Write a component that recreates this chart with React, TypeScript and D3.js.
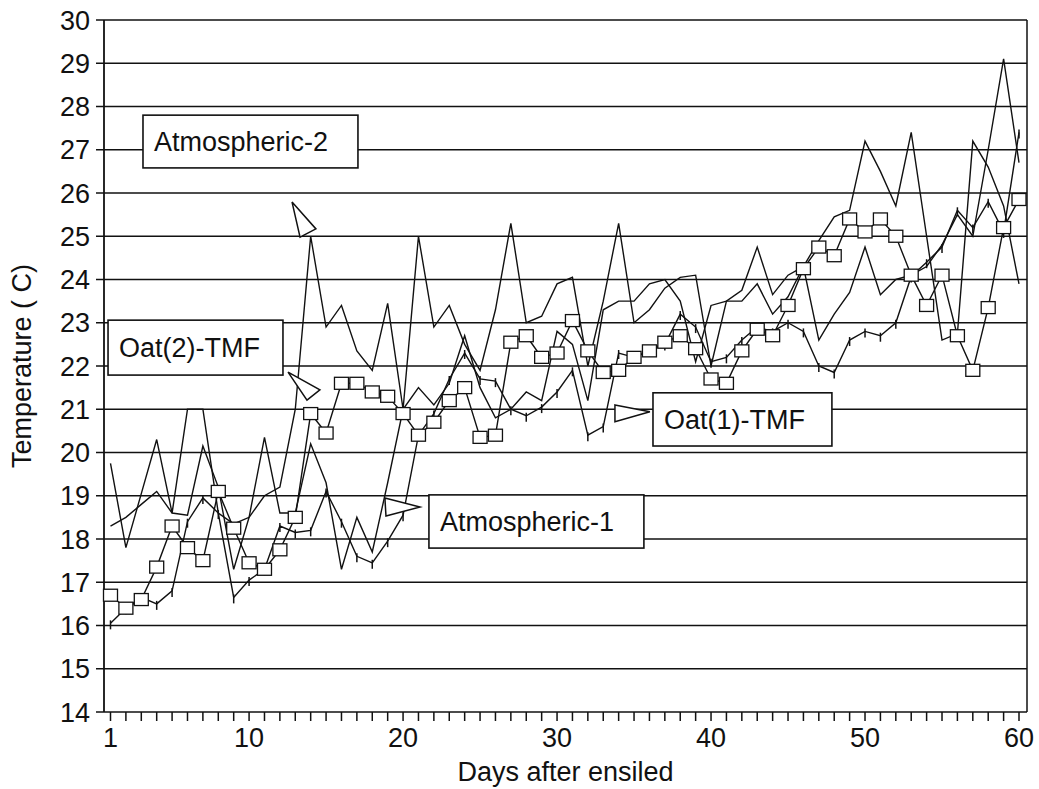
import React from "react";
import * as d3 from "d3";

const days = [
  1, 2, 3, 4, 5, 6, 7, 8, 9, 10, 11, 12, 13, 14, 15, 16, 17, 18, 19, 20,
  21, 22, 23, 24, 25, 26, 27, 28, 29, 30, 31, 32, 33, 34, 35, 36, 37, 38, 39, 40,
  41, 42, 43, 44, 45, 46, 47, 48, 49, 50, 51, 52, 53, 54, 55, 56, 57, 58, 59, 60,
];

// Atmospheric-1 (plain line)
const atm1 = [
  19.75, 17.8, 19.05, 20.3, 18.6, 21.0, 21.0, 18.6, 18.35, 18.5,
  20.35, 18.6, 18.6, 20.2, 19.3, 17.3, 18.5, 17.7, 19.3, 21.0,
  21.5, 21.1, 21.6, 22.7, 21.5, 20.8, 21.0, 21.4, 21.2, 22.8,
  22.5, 21.2, 23.3, 23.5, 23.5, 23.9, 24.0, 23.5, 22.1, 23.4,
  23.5, 23.75, 24.75, 23.65, 24.1, 24.3, 22.6, 23.2, 23.7, 24.75,
  23.65, 24.0, 24.1, 24.3, 24.8, 25.5, 25.0, 27.0, 29.1, 26.7,
];

// Atmospheric-2 (plain line)
const atm2 = [
  18.3, 18.5, 18.8, 19.1, 18.6, 18.55, 20.15, 19.2, 17.3, 18.5,
  19.0, 19.2, 21.0, 25.0, 22.9, 23.4, 22.35, 21.9, 23.45, 21.0,
  25.0, 22.9, 23.4, 22.5, 21.9, 23.3, 25.3, 23.0, 23.15, 23.9,
  24.05, 22.0, 23.5, 25.3, 23.0, 23.3, 23.8, 24.05, 24.1, 22.0,
  23.5, 23.5, 23.9, 23.2, 23.6, 24.3, 24.9, 25.45, 25.6, 27.2,
  26.5, 25.7, 27.4, 25.0, 22.6, 22.75, 27.2, 26.6, 25.7, 23.9,
];

// Oat(1)-TMF (tick markers)
const oat1 = [
  16.05, 16.4, 16.65, 16.5, 16.8, 18.4, 18.95, 18.6, 16.65, 17.05,
  17.3, 18.3, 18.15, 18.2, 19.1, 18.4, 17.6, 17.45, 17.95, 18.55,
  20.4, 20.9, 21.7, 22.3, 21.7, 21.65, 21.0, 20.85, 21.05, 21.4,
  21.9, 20.4, 20.6, 22.3, 22.2, 22.35, 22.5, 23.2, 22.9, 22.1,
  22.2, 22.6, 22.9, 22.8, 23.0, 22.8, 22.0, 21.85, 22.6, 22.8,
  22.7, 23.0, 24.07, 24.4, 24.75, 25.6, 25.2, 25.8, 25.1, 27.4,
];

// Oat(2)-TMF (square markers)
const oat2 = [
  16.7, 16.4, 16.6, 17.35, 18.3, 17.8, 17.5, 19.1, 18.25, 17.45,
  17.3, 17.75, 18.5, 20.9, 20.45, 21.6, 21.6, 21.4, 21.3, 20.9,
  20.4, 20.7, 21.2, 21.5, 20.35, 20.4, 22.55, 22.7, 22.2, 22.3,
  23.05, 22.35, 21.85, 21.9, 22.2, 22.35, 22.55, 22.7, 22.4, 21.7,
  21.6, 22.35, 22.85, 22.7, 23.4, 24.25, 24.75, 24.55, 25.4, 25.1,
  25.4, 25.0, 24.1, 23.4, 24.1, 22.7, 21.9, 23.35, 25.2, 25.85,
];

const yTicks = [14, 15, 16, 17, 18, 19, 20, 21, 22, 23, 24, 25, 26, 27, 28, 29, 30];
const xTickLabels = [1, 10, 20, 30, 40, 50, 60];

// Callout labels (box corners and tail triangle in data units: day, °C)
const callouts = [
  { text: "Atmospheric-2", box: [3.11, 27.8, 17.07, 26.58], tail: [[12.79, 25.79], [14.34, 25.17], [13.31, 24.98]] },
  { text: "Oat(2)-TMF", box: [0.84, 23.06, 12.2, 21.79], tail: [[12.53, 21.86], [14.6, 21.45], [13.76, 21.21]] },
  { text: "Oat(1)-TMF", box: [36.23, 21.38, 47.85, 20.15], tail: [[33.76, 21.1], [36.03, 20.94], [33.76, 20.71]] },
  { text: "Atmospheric-1", box: [21.68, 19.02, 35.64, 17.79], tail: [[18.82, 18.95], [21.1, 18.74], [18.89, 18.53]] },
];

const W = 1039;
const H = 789;
const plotLeft = 104;
const plotRight = 1027;
const FONT = "'Liberation Sans', Arial, Helvetica, sans-serif";

export default function App() {
  const x = d3.scaleLinear().domain([1, 60]).range([110.5, 1019]);
  const y = d3.scaleLinear().domain([14, 30]).range([712, 20]);

  const line = d3
    .line<number>()
    .x((_, i) => x(days[i]))
    .y((d) => y(d));

  const series = [atm1, atm2, oat1, oat2];
  const stroke = "#111";

  return (
    <svg
      width={W}
      height={H}
      style={{ position: "absolute", left: 0, top: 0, background: "#fff" }}
      fontFamily={FONT}
    >
      <rect x={0} y={0} width={W} height={H} fill="#fff" />
      {/* gridlines / y ticks */}
      {yTicks.map((t) => (
        <line
          key={"g" + t}
          x1={plotLeft - 8}
          x2={plotRight}
          y1={y(t)}
          y2={y(t)}
          stroke={stroke}
          strokeWidth={1.5}
        />
      ))}
      {/* y axis and right border */}
      <line x1={plotLeft} x2={plotLeft} y1={y(30)} y2={y(14)} stroke={stroke} strokeWidth={1.8} />
      <line x1={plotRight} x2={plotRight} y1={y(30)} y2={y(14)} stroke={stroke} strokeWidth={1.5} />
      {/* x ticks */}
      {days.map((d) => (
        <line key={"xt" + d} x1={x(d)} x2={x(d)} y1={y(14)} y2={y(14) + 9} stroke={stroke} strokeWidth={1.5} />
      ))}
      {/* y tick labels */}
      {yTicks.map((t) => (
        <text key={"yl" + t} x={90} y={y(t)} dy="0.36em" textAnchor="end" fontSize={27} fill={stroke}>
          {t}
        </text>
      ))}
      {/* x tick labels */}
      {xTickLabels.map((t) => (
        <text key={"xl" + t} x={x(t)} y={747} textAnchor="middle" fontSize={27} fill={stroke}>
          {t}
        </text>
      ))}
      <text x={(plotLeft + plotRight) / 2} y={781} textAnchor="middle" fontSize={27} fill={stroke}>
        Days after ensiled
      </text>
      <text
        transform={`translate(31, ${(y(30) + y(14)) / 2}) rotate(-90)`}
        textAnchor="middle"
        fontSize={27}
        fill={stroke}
      >
        Temperature ( C)
      </text>

      {/* series lines */}
      {series.map((s, i) => (
        <path key={"s" + i} d={line(s) || ""} fill="none" stroke={stroke} strokeWidth={1.4} strokeLinejoin="miter" />
      ))}
      {/* tick markers for Oat(1)-TMF */}
      {oat1.map((v, i) => (
        <line key={"tk" + i} x1={x(days[i])} x2={x(days[i])} y1={y(v) - 3} y2={y(v) + 6} stroke={stroke} strokeWidth={1.5} />
      ))}
      {/* square markers for Oat(2)-TMF */}
      {oat2.map((v, i) => (
        <rect
          key={"sq" + i}
          x={x(days[i]) - 7}
          y={y(v) - 6}
          width={14}
          height={12}
          fill="#fff"
          stroke={stroke}
          strokeWidth={1.3}
        />
      ))}

      {/* callouts */}
      {callouts.map((c) => {
        const [d0, t0, d1, t1] = c.box;
        const bx = x(d0);
        const by = y(t0);
        const bw = x(d1) - x(d0);
        const bh = y(t1) - y(t0);
        const tri = c.tail.map(([d, t]) => `${x(d)},${y(t)}`).join(" ");
        return (
          <g key={c.text}>
            <polygon points={tri} fill="#fff" stroke={stroke} strokeWidth={1.5} strokeLinejoin="miter" />
            <rect x={bx} y={by} width={bw} height={bh} fill="#fff" stroke={stroke} strokeWidth={1.6} />
            <text x={bx + 11} y={by + bh / 2} dy="0.36em" fontSize={27} fill={stroke}>
              {c.text}
            </text>
          </g>
        );
      })}
    </svg>
  );
}
